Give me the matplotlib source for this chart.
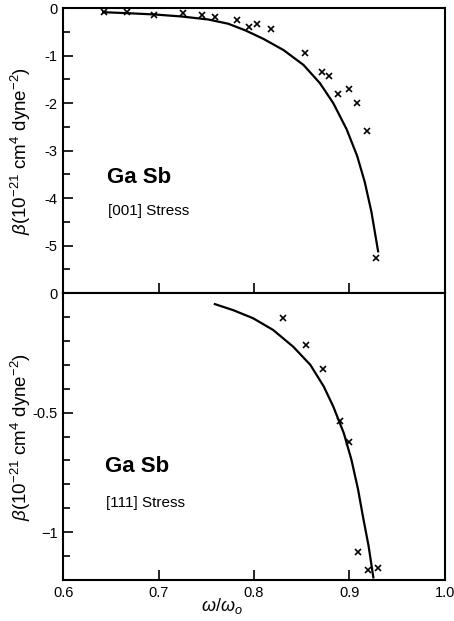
import matplotlib.pyplot as plt
import numpy as np

plt.rcParams['font.family'] = ['Liberation Sans', 'DejaVu Sans']
plt.rcParams['mathtext.fontset'] = 'custom'
plt.rcParams['mathtext.rm'] = 'Liberation Sans'
plt.rcParams['mathtext.it'] = 'Liberation Sans:italic'

# [001] stress: measured points and calculated curve
x001_pts = [0.643, 0.667, 0.695, 0.726, 0.745, 0.759, 0.782, 0.795, 0.803, 0.818,
            0.853, 0.871, 0.879, 0.888, 0.899, 0.908, 0.918, 0.928]
y001_pts = [-0.09, -0.09, -0.14, -0.11, -0.14, -0.19, -0.26, -0.39, -0.34, -0.43,
            -0.94, -1.35, -1.43, -1.80, -1.70, -2.00, -2.59, -5.26]
x001_fit = [0.642, 0.668, 0.696, 0.724, 0.752, 0.773, 0.791, 0.810, 0.831, 0.852,
            0.869, 0.883, 0.897, 0.908, 0.916, 0.923, 0.930]
y001_fit = [-0.087, -0.108, -0.135, -0.177, -0.24, -0.33, -0.47, -0.65, -0.885, -1.20,
            -1.58, -2.00, -2.55, -3.11, -3.66, -4.29, -5.12]

# [111] stress
x111_pts = [0.830, 0.854, 0.872, 0.890, 0.900, 0.909, 0.919, 0.930]
y111_pts = [-0.105, -0.217, -0.318, -0.533, -0.624, -1.082, -1.158, -1.149]
x111_fit = [0.759, 0.778, 0.799, 0.820, 0.841, 0.859, 0.873, 0.883, 0.894, 0.902,
            0.909, 0.914, 0.920, 0.925]
y111_fit = [-0.046, -0.071, -0.105, -0.154, -0.224, -0.30, -0.39, -0.474, -0.585, -0.696,
            -0.821, -0.932, -1.057, -1.189]

xticks = [0.6, 0.7, 0.8, 0.9, 1.0]

fig = plt.figure(figsize=(4.54, 6.21), dpi=100)
ax1 = fig.add_axes([0.139, 0.528, 0.841, 0.459])
ax2 = fig.add_axes([0.139, 0.066, 0.841, 0.462])

ylab = r'$\beta$(10$^{-21}$ cm$^4$ dyne$^{-2}$)'

for ax in (ax1, ax2):
    for s in ax.spines.values():
        s.set_linewidth(1.5)
    ax.set_xlim(0.6, 1.0)
    ax.set_xticks(xticks)
    ax.tick_params(direction='in', length=7, width=1.2, labelsize=10.5, pad=4)
    ax.tick_params(which='minor', direction='in', length=5, width=1.2)
    ax.set_ylabel(ylab, fontsize=13.5)
    ax.yaxis.set_label_coords(-0.078, 0.5)

# top panel
ax1.plot(x001_fit, y001_fit, color='black', lw=1.6)
ax1.plot(x001_pts, y001_pts, 'x', color='black', ms=4, mew=1.2)
ax1.set_ylim(-6, 0)
ax1.set_yticks([0, -1, -2, -3, -4, -5])
ax1.set_yticklabels(['0', '-1', '-2', '-3', '-4', '-5'])
ax1.set_yticks(np.arange(-5.5, 0, 1.0), minor=True)
ax1.tick_params(axis='x', labelbottom=False)
ax1.text(0.115, 0.386, 'Ga Sb', transform=ax1.transAxes, fontsize=16, fontweight='bold')
ax1.text(0.118, 0.274, '[001] Stress', transform=ax1.transAxes, fontsize=11)

# bottom panel
ax2.plot(x111_fit, y111_fit, color='black', lw=1.6)
ax2.plot(x111_pts, y111_pts, 'x', color='black', ms=4, mew=1.2)
ax2.set_ylim(-1.2, 0)
ax2.set_yticks([0, -0.5, -1])
ax2.set_yticklabels(['0', '-0.5', '\u22121'])
ax2.set_yticks([-0.1, -0.2, -0.3, -0.4, -0.6, -0.7, -0.8, -0.9, -1.1], minor=True)
ax2.set_xticklabels(['0.6', '0.7', '0.8', '0.9', '1.0'])
ax2.set_xlabel(r'$\omega/\omega_o$', fontsize=13)
ax2.xaxis.set_label_coords(0.416, -0.055)
ax2.text(0.110, 0.377, 'Ga Sb', transform=ax2.transAxes, fontsize=16, fontweight='bold')
ax2.text(0.113, 0.255, '[111] Stress', transform=ax2.transAxes, fontsize=11)

fig.savefig('out.png', dpi=100)
